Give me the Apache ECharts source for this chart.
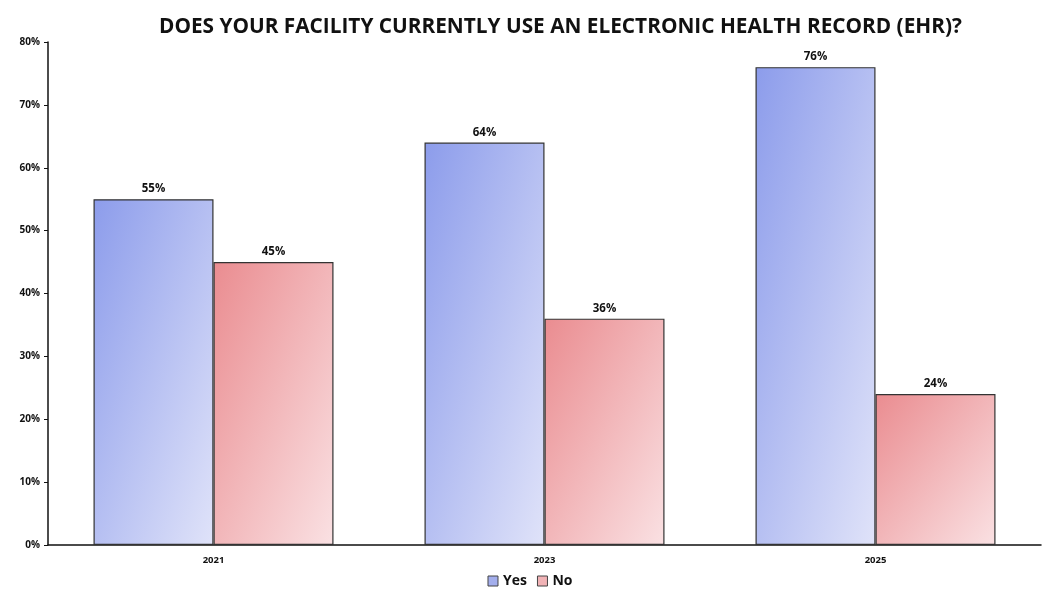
<!DOCTYPE html>
<html>
<head>
<meta charset="utf-8">
<script src="https://cdn.jsdelivr.net/npm/echarts@6/dist/echarts.min.js"></script>
<style>html,body{margin:0;padding:0;background:#fff}#c{width:1060px;height:600px}</style>
</head>
<body>
<div id="c"></div>
<script>
var categories = ['2021', '2023', '2025'];
var yesValues = [55, 64, 76];
var noValues = [45, 36, 24];
var seriesNames = ['Yes', 'No'];
var titleText = 'DOES YOUR FACILITY CURRENTLY USE AN ELECTRONIC HEALTH RECORD (EHR)?';

var FONT = '"Open Sans", "Liberation Sans", sans-serif';
var GRID = { left: 48, right: 19, top: 42, bottom: 55 };
var Y_MAX = 80;
var BAR_W = 120;
var PLOT_H = 600 - GRID.top - GRID.bottom;
var chart = echarts.init(document.getElementById('c'));
// diagonal gradient scaled with the shape (isolines parallel to the anti-diagonal)
function diagGrad(a, b) {
  return function (p) {
    var h = Math.max(1, p.value / Y_MAX * PLOT_H);
    var w = BAR_W;
    var d = h * h + w * w;
    return new echarts.graphic.LinearGradient(0, 0, 2 * h * h / d, 2 * w * w / d, [
      { offset: 0, color: a }, { offset: 1, color: b }
    ]);
  };
}
var label = {
  show: true, position: 'top', formatter: '{c}%', color: '#111',
  fontFamily: FONT, fontWeight: 'bold', fontSize: 11.5, distance: 4
};
chart.setOption({
  animation: false,
  title: {
    text: titleText, left: 154, top: 12,
    textStyle: { fontFamily: FONT, fontWeight: 'bold', fontSize: 20.8, color: '#111' }
  },
  legend: {
    data: [
      { name: seriesNames[0], icon: 'rect', itemStyle: { color: '#a3aeec', borderColor: '#444', borderWidth: 1 } },
      { name: seriesNames[1], icon: 'rect', itemStyle: { color: '#f1b3b6', borderColor: '#444', borderWidth: 1 } }
    ],
    bottom: 7, left: 'center', itemWidth: 10, itemHeight: 10,
    itemGap: 10,
    textStyle: { fontFamily: FONT, fontWeight: 'bold', fontSize: 14, color: '#111' }
  },
  grid: { left: GRID.left, right: GRID.right, top: GRID.top, bottom: GRID.bottom, containLabel: false },
  xAxis: {
    type: 'category', data: categories,
    axisLine: { lineStyle: { color: '#111', width: 1.5 } },
    axisTick: { show: false },
    axisLabel: { fontFamily: FONT, fontWeight: 'bold', fontSize: 9.5, color: '#111', margin: 10 }
  },
  yAxis: {
    type: 'value', min: 0, max: Y_MAX, interval: 10,
    axisLine: { show: true, lineStyle: { color: '#111', width: 1.5 } },
    axisTick: { show: true, length: 4, lineStyle: { color: '#111' } },
    splitLine: { show: false },
    axisLabel: { formatter: '{value}%', fontFamily: FONT, fontWeight: 'bold', fontSize: 10, color: '#111', margin: 8 }
  },
  series: [
    {
      name: seriesNames[0], type: 'bar', data: yesValues, barWidth: BAR_W, barGap: '0%',
      itemStyle: { color: diagGrad('#8c9ceb', '#e0e3f9'), borderColor: '#333', borderWidth: 1.2 },
      label: label
    },
    {
      name: seriesNames[1], type: 'bar', data: noValues, barWidth: BAR_W,
      itemStyle: { color: diagGrad('#ea8c90', '#fae1e3'), borderColor: '#333', borderWidth: 1.2 },
      label: label
    }
  ]
});
</script>
</body>
</html>
